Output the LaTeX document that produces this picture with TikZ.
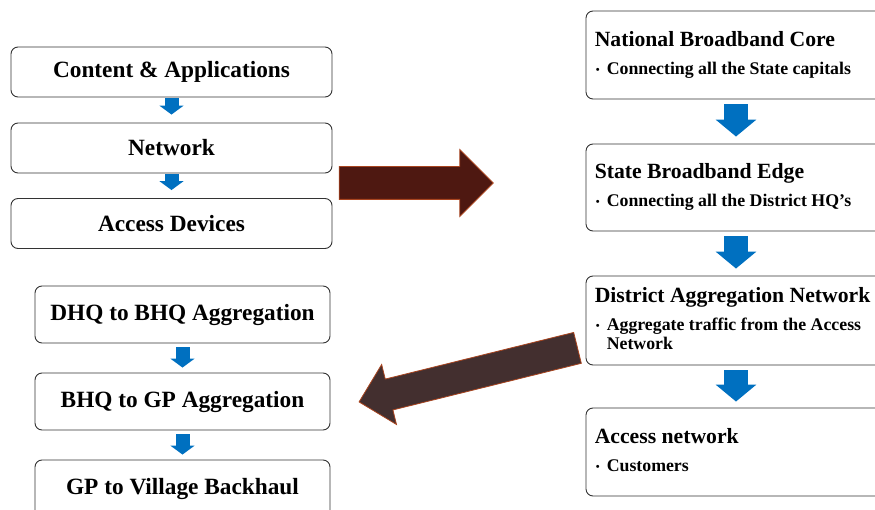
\documentclass[tikz,border=0pt]{standalone}
\usepackage{fontspec}
\setmainfont{Liberation Serif}
\usepackage{xcolor}
\usetikzlibrary{arrows.meta,calc,shapes.arrows}

\definecolor{flowblue}{HTML}{0070C0}
\definecolor{rustline}{HTML}{A8441F}
\definecolor{darkmaroon}{HTML}{4E1811}
\definecolor{darktaupe}{HTML}{432F2F}

\newcommand{\bulmark}{\makebox[11pt][l]{\raisebox{1pt}{\fontsize{11}{11}\selectfont\textbullet}}}

\begin{document}
\begin{tikzpicture}[x=1pt,y=-1pt,
    box/.style={draw=black!80,line width=0.9pt,rounded corners=7pt,inner sep=0pt},
    topbox/.style={box,minimum width=321pt,minimum height=50pt,font=\bfseries\fontsize{23.3}{25}\selectfont},
    lowbox/.style={box,minimum width=295pt,minimum height=57pt,font=\bfseries\fontsize{23.3}{25}\selectfont},
    tierbox/.style={box,minimum width=300pt,minimum height=88pt},
    tierhead/.style={anchor=base west,inner sep=0pt,font=\bfseries\fontsize{21.7}{23}\selectfont},
    tiertext/.style={anchor=base west,inner sep=0pt,font=\bfseries\fontsize{17.8}{19}\selectfont},
    smallflow/.style={flowblue,line width=14pt,-{Triangle[width=24pt,length=9pt]}},
    bigflow/.style={flowblue,line width=24pt,-{Triangle[width=40pt,length=17pt]}},
    blockarrow/.style={single arrow,draw=rustline,line width=0.8pt,inner xsep=0pt,
        single arrow tip angle=90,single arrow head indent=0pt}]
    \useasboundingbox (0,0) rectangle (875,510);

    % service layers
    \node[topbox] (content) at (171.5,72) {Content \& Applications};
    \node[topbox] (network) at (171.5,148) {Network};
    \node[topbox] (devices) at (171.5,223.5) {Access Devices};
    \draw[smallflow,shorten <=1pt,shorten >=8pt] (content.south) -- (network.north);
    \draw[smallflow,shorten <=1pt,shorten >=8pt] (network.south) -- (devices.north);

    % aggregation chain
    \node[lowbox] (dhq) at (182.5,314.5) {DHQ to BHQ Aggregation};
    \node[lowbox] (bhq) at (182.5,401.5) {BHQ to GP Aggregation};
    \node[lowbox] (gpv) at (182.5,488.5) {GP to Village Backhaul};
    \draw[smallflow,shorten <=4pt,shorten >=5pt] (dhq.south) -- (bhq.north);
    \draw[smallflow,shorten <=4pt,shorten >=5pt] (bhq.south) -- (gpv.north);

    % network tiers
    \node[tierbox] (core) at (736,55) {};
    \node[tierbox,minimum height=87pt] (edge) at (736,187.5) {};
    \node[tierbox,minimum height=89pt] (district) at (736,320.5) {};
    \node[tierbox] (access) at (736,452) {};

    \node[tierhead] (corehead) at ($(core.north west)+(9,36)$) {National Broadband Core};
    \node[tiertext] (coretext) at ($(core.north west)+(10,64)$) {\bulmark Connecting all the State capitals};
    \node[tierhead] (edgehead) at ($(edge.north west)+(9,35)$) {State Broadband Edge};
    \node[tiertext] (edgetext) at ($(edge.north west)+(10,63)$) {\bulmark Connecting all the District HQ’s};
    \node[tierhead] (disthead) at ($(district.north west)+(9,27)$) {District Aggregation Network};
    \node[tiertext] (disttext) at ($(district.north west)+(10,55)$) {\bulmark Aggregate traffic from the Access};
    \node[tiertext] (disttext2) at ($(district.north west)+(21,74)$) {Network};
    \node[tierhead] (accesshead) at ($(access.north west)+(9,36)$) {Access network};
    \node[tiertext] (accesstext) at ($(access.north west)+(10,64)$) {\bulmark Customers};

    \draw[bigflow,shorten <=5pt,shorten >=7pt] (core.south) -- (edge.north);
    \draw[bigflow,shorten <=5pt,shorten >=7pt] (edge.south) -- (district.north);
    \draw[bigflow,shorten <=5pt,shorten >=6pt] (district.south) -- (access.north);

    % block arrows between the groups
    \node[blockarrow,fill=darkmaroon,inner ysep=16pt,single arrow head extend=17pt,
        minimum height=154pt] (expand) at (408,183) {};
    \node[blockarrow,fill=darktaupe,inner ysep=15.5pt,single arrow head extend=15pt,
        minimum height=225pt,rotate=193.9] (detail) at (476,373) {};
\end{tikzpicture}
\end{document}
